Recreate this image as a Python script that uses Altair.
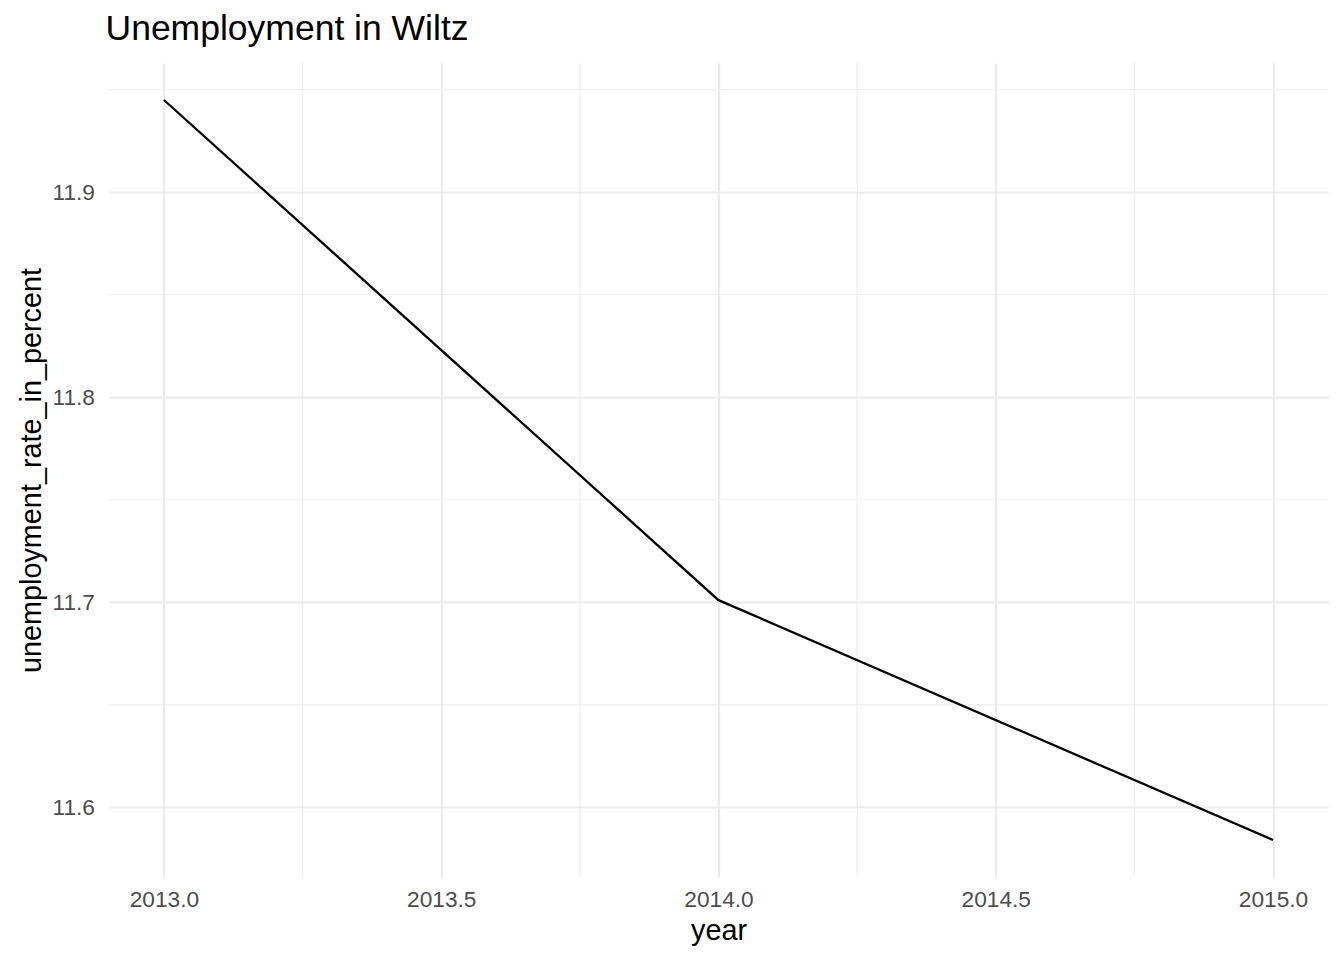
import altair as alt
import pandas as pd

years = [2013, 2014, 2015]
rates = [11.945, 11.701, 11.584]

x_major = [2013.0, 2013.5, 2014.0, 2014.5, 2015.0]
x_minor = [2013.25, 2013.75, 2014.25, 2014.75]
y_major = [11.6, 11.7, 11.8, 11.9]
y_minor = [11.65, 11.75, 11.85, 11.95]

df = pd.DataFrame({"year": years, "unemployment_rate_in_percent": rates})
dfx = pd.DataFrame({"xm": x_minor})
dfy = pd.DataFrame({"ym": y_minor})

x_dom = [2012.9, 2015.1]
y_dom = [11.56595, 11.96305]

FONT = "Liberation Sans"
GRID = "#EBEBEB"

xscale = alt.Scale(domain=x_dom, nice=False, zero=False)
yscale = alt.Scale(domain=y_dom, nice=False, zero=False)

line = alt.Chart(df).mark_line(color="black", strokeWidth=2.3).encode(
    x=alt.X("year:Q", scale=xscale,
            axis=alt.Axis(values=x_major, format=".1f", title="year",
                          grid=True, gridColor=GRID, gridWidth=2.2,
                          domain=False, ticks=False, tickSize=0,
                          labelPadding=11, labelFontSize=22.7, labelColor="#4D4D4D",
                          labelFont=FONT, titleFont=FONT, titleFontSize=28.8,
                          titleFontWeight="normal", titleColor="black", titlePadding=6)),
    y=alt.Y("unemployment_rate_in_percent:Q", scale=yscale,
            axis=alt.Axis(values=y_major, format=".1f", title="unemployment_rate_in_percent",
                          grid=True, gridColor=GRID, gridWidth=2.2,
                          domain=False, ticks=False, tickSize=0,
                          labelPadding=14, labelFontSize=22.7, labelColor="#4D4D4D",
                          labelFont=FONT, titleFont=FONT, titleFontSize=28.8,
                          titleFontWeight="normal", titleColor="black", titlePadding=6)),
)

xminor = alt.Chart(dfx).mark_rule(color=GRID, strokeWidth=1.1).encode(
    x=alt.X("xm:Q", scale=xscale)
)
yminor = alt.Chart(dfy).mark_rule(color=GRID, strokeWidth=1.1).encode(
    y=alt.Y("ym:Q", scale=yscale)
)

chart = alt.layer(xminor, yminor, line).properties(
    width=1220,
    height=814,
    title=alt.TitleParams("Unemployment in Wiltz", anchor="start", frame="group",
                          font=FONT, fontSize=35.5, fontWeight="normal", color="black",
                          baseline="alphabetic", offset=25, dx=-3, dy=38),
    padding={"left": 100.5, "top": 55, "right": 7.5, "bottom": 70},
    autosize=alt.AutoSizeParams(type="none"),
).configure(background="white", view=alt.ViewConfig(stroke=None))

chart.save("out.html", embed_options={"renderer": "svg", "actions": False})
